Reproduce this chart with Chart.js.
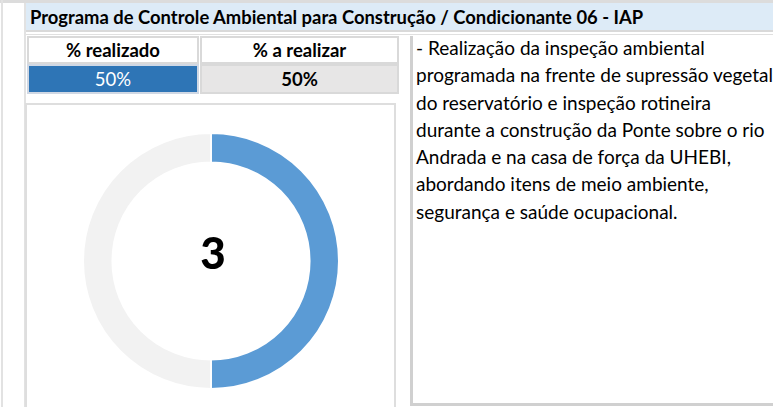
<!DOCTYPE html>
<html>
<head>
<meta charset="utf-8">
<script src="https://cdn.jsdelivr.net/npm/chart.js@4.4.1/dist/chart.umd.min.js"></script>
<style>
  html, body { margin: 0; padding: 0; background: #fff; }
  body { width: 773px; height: 407px; position: relative; overflow: hidden; font-family: Lato, "Open Sans", sans-serif; }
  .box { position: absolute; box-sizing: border-box; }
  .cell { display: flex; align-items: center; justify-content: center; font-size: 18.5px; font-weight: bold; color: #000; }
  #notes { font-size: 19px; line-height: 27.3px; color: #000; white-space: nowrap; }
</style>
</head>
<body>
<div class="box" style="left:0;top:0;width:773px;height:3px;background:#dcdcdc"></div>
<div class="box" style="left:1px;top:0;width:2px;height:407px;background:#e2e2e2"></div>
<div class="box" style="left:24px;top:3px;width:2px;height:404px;background:#e2e2e2"></div>
<div class="box" id="title" style="left:26px;top:3px;width:747px;height:29px;background:#ddebf7;border-bottom:2px solid #d9d9d9;font-weight:bold;font-size:18.4px;padding-left:4px;display:flex;align-items:center;white-space:nowrap"></div>
<div class="box" style="left:26px;top:34px;width:747px;height:1px;background:#e0e0e0"></div>

<div class="box cell" id="h0" style="left:27px;top:36px;width:172px;height:28px;border:2px solid #d9d9d9"></div>
<div class="box cell" id="h1" style="left:200px;top:36px;width:199px;height:28px;border:2px solid #d9d9d9"></div>
<div class="box cell" id="v0" style="left:27px;top:64px;width:172px;height:30px;background:#2e75b6;border:2px solid #d0d8e4;color:#fff;font-weight:normal"></div>
<div class="box cell" id="v1" style="left:200px;top:64px;width:199px;height:30px;background:#e7e6e6;border:2px solid #d9d9d9"></div>

<div class="box" style="left:25px;top:103px;width:371px;height:310px;border:2px solid #dedede"></div>
<div class="box" style="left:82px;top:132px;width:258px;height:258px">
  <canvas id="donut"></canvas>
</div>

<div class="box" style="left:410px;top:36px;width:3px;height:370px;background:#d0d0d0"></div>
<div class="box" style="left:410px;top:403px;width:363px;height:3px;background:#d0d0d0"></div>
<div class="box" id="notes" style="left:416px;top:34px"></div>

<script>
const titleText = "Programa de Controle Ambiental para Construção / Condicionante 06 - IAP";
const categories = ["% realizado", "% a realizar"];
const values = [50, 50];
const colors = ["#5b9bd5", "#f2f2f2"];
const centerValue = "3";
const noteLines = [
  "- Realização da inspeção ambiental",
  "programada na frente de supressão vegetal",
  "do reservatório e inspeção rotineira",
  "durante a construção da Ponte sobre o rio",
  "Andrada e na casa de força da UHEBI,",
  "abordando itens de meio ambiente,",
  "segurança e saúde ocupacional."
];

document.getElementById("title").textContent = titleText;
document.getElementById("h0").textContent = categories[0];
document.getElementById("h1").textContent = categories[1];
document.getElementById("v0").textContent = values[0] + "%";
document.getElementById("v1").textContent = values[1] + "%";
document.getElementById("notes").innerHTML = noteLines.join("<br>");

const centerText = {
  id: "centerText",
  afterDraw(chart) {
    const ctx = chart.ctx;
    const meta = chart.getDatasetMeta(0).data[0];
    ctx.save();
    ctx.font = "900 44px Lato, sans-serif";
    ctx.fillStyle = "#000";
    ctx.textAlign = "center";
    ctx.textBaseline = "alphabetic";
    ctx.fillText(centerValue, meta.x + 2, meta.y + 8);
    ctx.restore();
  }
};

function drawChart() {
  new Chart(document.getElementById("donut"), {
    type: "doughnut",
    data: {
      labels: categories,
      datasets: [{
        data: values,
        backgroundColor: colors,
        borderColor: "#ffffff",
        borderWidth: 2,
        hoverOffset: 0
      }]
    },
    options: {
      responsive: true,
      maintainAspectRatio: false,
      animation: false,
      cutout: "77%",
      layout: { padding: 0 },
      plugins: {
        legend: { display: false },
        tooltip: { enabled: false }
      }
    },
    plugins: [centerText]
  });
}

document.fonts.load("900 44px Lato").then(drawChart, drawChart);
</script>
</body>
</html>
